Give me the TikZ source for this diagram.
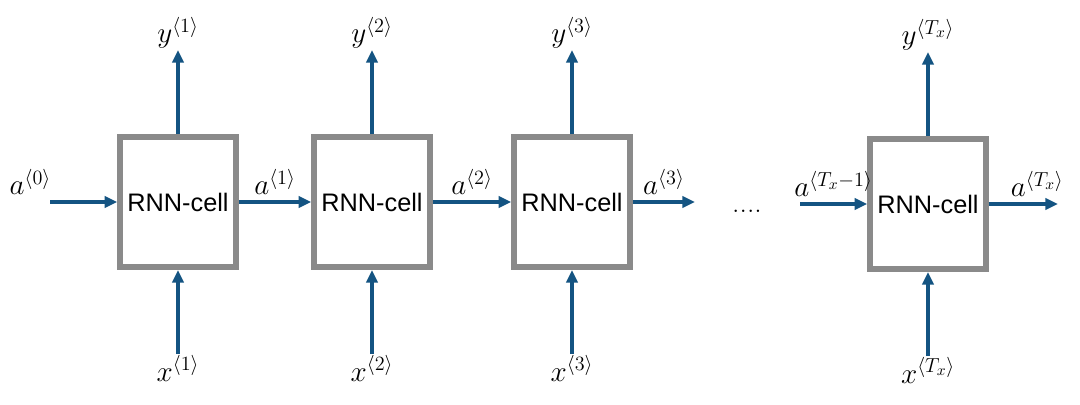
\documentclass[tikz,border=0pt]{standalone}
\usepackage{fontspec}
\setsansfont{Liberation Sans}
\usetikzlibrary{arrows.meta, positioning}

\definecolor{cellgray}{RGB}{138,138,138}
\definecolor{flowblue}{RGB}{20,84,130}

\begin{document}
\begin{tikzpicture}[x=0.025cm, y=0.025cm,
	cell/.style={draw=cellgray, line width=4pt, minimum width=2.9cm, minimum height=3.26cm,
		font=\sffamily\fontsize{18}{21}\selectfont},
	flow/.style={draw=flowblue, line width=2.3pt, -{Triangle[length=9pt,width=8pt]}},
	lbl/.style={font=\fontsize{21}{24}\selectfont, inner sep=1pt}]
	\useasboundingbox (0,0) rectangle (1080,404);

	% the cells
	\node[cell] (cell1) at (178,202) {RNN-cell};
	\node[cell] (cell2) at (372,202) {RNN-cell};
	\node[cell] (cell3) at (572,202) {RNN-cell};
	\node[cell] (cellT) at (928,200) {RNN-cell};

	% outputs and inputs
	\foreach \c/\t in {cell1/1, cell2/2, cell3/3, cellT/T_x} {
		\node[lbl, above=2.1cm of \c] (y\c) {$y^{\langle \t\rangle}$};
		\node[lbl, below=2.1cm of \c] (x\c) {$x^{\langle \t\rangle}$};
		\draw[flow] (\c.north) -- (y\c.south);
		\draw[flow] (x\c.north) -- (\c.south);
	}

	% hidden states
	\coordinate (a0) at (50,202);
	\coordinate (a3) at (695,202);
	\coordinate (aTm) at (800,200);
	\coordinate (aT) at (1058,200);
	\draw[flow] (a0) -- (cell1.west) node[lbl, pos=0, above=3pt, xshift=-14pt] {$a^{\langle 0\rangle}$};
	\draw[flow] (cell1.east) -- (cell2.west) node[lbl, midway, above=3pt] {$a^{\langle 1\rangle}$};
	\draw[flow] (cell2.east) -- (cell3.west) node[lbl, midway, above=3pt] {$a^{\langle 2\rangle}$};
	\draw[flow] (cell3.east) -- (a3) node[lbl, midway, above=3pt] {$a^{\langle 3\rangle}$};
	\draw[flow] (aTm) -- (cellT.west) node[lbl, midway, above=3pt] {$a^{\langle T_x-1\rangle}$};
	\draw[flow] (cellT.east) -- (aT) node[lbl, pos=0.7, above=3pt] {$a^{\langle T_x\rangle}$};

	\node[lbl, anchor=base] (dots) at (747,192) {....};
\end{tikzpicture}
\end{document}
